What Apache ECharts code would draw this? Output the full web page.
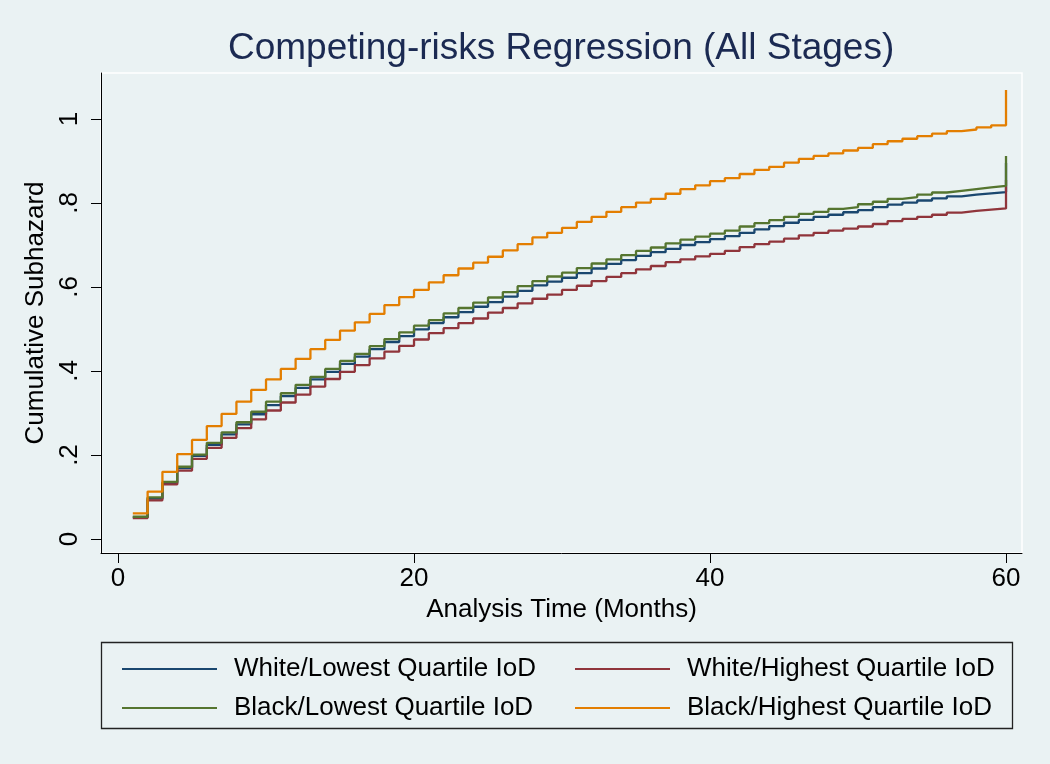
<!DOCTYPE html>
<html><head><meta charset="utf-8">
<script src="https://cdn.jsdelivr.net/npm/echarts@6/dist/echarts.min.js"></script>
<style>html,body{margin:0;padding:0;background:#EAF2F3}#c{width:1050px;height:764px}</style>
</head><body><div id="c"></div>
<script>
const months = [1,2,3,4,5,6,7,8,9,10,11,12,13,14,15,16,17,18,19,20,21,22,23,24,25,26,27,28,29,30,31,32,33,34,35,36,37,38,39,40,41,42,43,44,45,46,47,48,49,50,51,52,53,54,55,56,57,58,59,60];
const seriesNames = ['White/Lowest Quartile IoD','White/Highest Quartile IoD','Black/Lowest Quartile IoD','Black/Highest Quartile IoD'];
const whiteLowest = [0.052,0.096,0.133,0.169,0.198,0.224,0.249,0.273,0.297,0.319,0.340,0.360,0.380,0.398,0.417,0.434,0.452,0.469,0.483,0.499,0.514,0.528,0.540,0.553,0.564,0.577,0.591,0.604,0.613,0.622,0.633,0.644,0.655,0.664,0.674,0.683,0.691,0.700,0.707,0.714,0.721,0.729,0.737,0.745,0.753,0.760,0.767,0.772,0.778,0.783,0.790,0.796,0.801,0.806,0.811,0.816,0.820,0.823,0.826,0.895];
const whiteHighest = [0.050,0.092,0.130,0.163,0.191,0.217,0.241,0.264,0.285,0.306,0.325,0.344,0.363,0.381,0.398,0.414,0.430,0.446,0.460,0.475,0.490,0.502,0.514,0.525,0.539,0.550,0.561,0.572,0.582,0.593,0.603,0.614,0.624,0.633,0.642,0.650,0.659,0.666,0.673,0.679,0.686,0.695,0.702,0.708,0.715,0.723,0.729,0.734,0.739,0.744,0.750,0.757,0.762,0.767,0.772,0.777,0.781,0.784,0.787,0.855];
const blackLowest = [0.053,0.099,0.136,0.172,0.201,0.229,0.254,0.278,0.303,0.327,0.347,0.367,0.386,0.405,0.424,0.441,0.459,0.476,0.492,0.508,0.521,0.537,0.550,0.563,0.575,0.588,0.602,0.614,0.625,0.634,0.645,0.656,0.666,0.676,0.686,0.694,0.704,0.713,0.720,0.727,0.734,0.744,0.752,0.759,0.767,0.774,0.779,0.786,0.790,0.797,0.803,0.810,0.814,0.820,0.825,0.829,0.833,0.837,0.841,0.912];
const blackHighest = [0.061,0.113,0.160,0.202,0.236,0.269,0.298,0.327,0.355,0.380,0.405,0.429,0.452,0.474,0.496,0.516,0.536,0.557,0.576,0.593,0.611,0.628,0.644,0.658,0.672,0.687,0.702,0.718,0.729,0.741,0.755,0.767,0.779,0.790,0.801,0.810,0.822,0.833,0.842,0.852,0.859,0.869,0.879,0.886,0.896,0.905,0.912,0.918,0.925,0.931,0.940,0.947,0.953,0.959,0.965,0.971,0.975,0.980,0.985,1.069];
const xTicks = [0,20,40,60];
const yTicks = [0,0.2,0.4,0.6,0.8,1];
const yTickLabels = ['0','.2','.4','.6','.8','1'];

const FONT = '"Liberation Sans", Arial, sans-serif';
const colors = ['#1A476F','#90353B','#55752F','#E37E00'];
const valuesList = [whiteLowest, whiteHighest, blackLowest, blackHighest];
const titleText = 'Competing-risks Regression (All Stages)';
const titleSize = 37;

// centre the title over the plot area
const ctx = document.createElement('canvas').getContext('2d');
ctx.font = titleSize + 'px ' + FONT;
const titleW = ctx.measureText(titleText).width;
const plotCenter = (101 + 1022) / 2;

const chart = echarts.init(document.getElementById('c'), null, {renderer:'canvas'});
const series = seriesNames.map((name, i) => ({
  name: name,
  type: 'line',
  step: 'end',
  symbol: 'none',
  showSymbol: false,
  data: months.map((m, j) => [m, valuesList[i][j]]),
  lineStyle: {color: colors[i], width: 2.3},
  itemStyle: {color: colors[i]},
  z: 3 + i
}));

const legendCommon = {
  orient: 'vertical',
  top: 651,
  itemWidth: 95,
  itemHeight: 20,
  itemGap: 13,
  icon: 'path://M0,9 L95,9 L95,11.2 L0,11.2 Z',
  textStyle: {fontFamily: FONT, fontSize: 26, lineHeight: 26, color: '#000', padding: [0,0,0,12]}
};

chart.setOption({
  backgroundColor: '#EAF2F3',
  animation: false,
  color: colors,
  title: {
    text: titleText,
    left: Math.round(plotCenter - titleW / 2),
    top: 30,
    padding: 0,
    textStyle: {fontFamily: FONT, fontSize: titleSize, fontWeight: 'normal', color: '#1B2A52'}
  },
  grid: {left: 101, right: 28, top: 73, bottom: 211, containLabel: false},
  xAxis: {
    type: 'value',
    min: -1.15,
    max: 61.08,
    name: 'Analysis Time (Months)',
    nameLocation: 'middle',
    nameGap: 42,
    nameTextStyle: {fontFamily: FONT, fontSize: 26, color: '#000'},
    axisLine: {show: true, onZero: false, lineStyle: {color: '#000', width: 1}},
    axisTick: {show: true, length: 10, customValues: xTicks, lineStyle: {color: '#000'}},
    axisLabel: {show: true, customValues: xTicks, fontFamily: FONT, fontSize: 26, color: '#000', margin: 13},
    splitLine: {show: false}
  },
  yAxis: {
    type: 'value',
    min: -0.0333,
    max: 1.1095,
    name: 'Cumulative Subhazard',
    nameLocation: 'middle',
    nameGap: 38,
    nameRotate: 90,
    nameTextStyle: {fontFamily: FONT, fontSize: 26, color: '#000'},
    axisLine: {show: true, onZero: false, lineStyle: {color: '#000', width: 1}},
    axisTick: {show: true, length: 10, customValues: yTicks, lineStyle: {color: '#000'}},
    axisLabel: {
      show: true, customValues: yTicks, rotate: 90, fontFamily: FONT, fontSize: 26, color: '#000', margin: 18,
      formatter: v => { const k = yTicks.findIndex(t => Math.abs(t - v) < 1e-6); return k >= 0 ? yTickLabels[k] : ''; }
    },
    splitLine: {show: false}
  },
  legend: [
    Object.assign({}, legendCommon, {left: 117, data: [seriesNames[0], seriesNames[2]]}),
    Object.assign({}, legendCommon, {left: 570, data: [seriesNames[1], seriesNames[3]]})
  ],
  graphic: [
    {type: 'rect', z: 0, silent: true, shape: {x: 101, y: 73, width: 921, height: 480},
     style: {fill: 'none', stroke: '#FFFFFF', lineWidth: 1.5}},
    {type: 'rect', z: 0, silent: true, shape: {x: 101.5, y: 642.5, width: 911, height: 86},
     style: {fill: 'none', stroke: '#222222', lineWidth: 1.3}}
  ],
  series: series
});
</script>
</body></html>
